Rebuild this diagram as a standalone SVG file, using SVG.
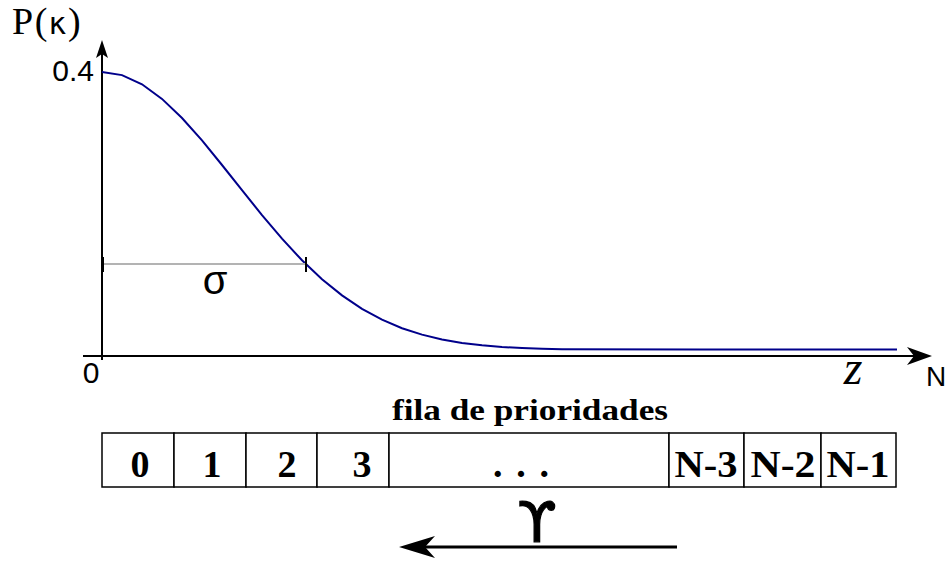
<svg xmlns="http://www.w3.org/2000/svg" width="946" height="561" viewBox="0 0 946 561">
<style>
.ax{stroke:#000;stroke-width:2;fill:none}
.ah{fill:#000;stroke:none}
.curve{stroke:#00008b;stroke-width:2;fill:none}
.sig{stroke:#b3b3b3;stroke-width:2;fill:none}
.tick{stroke:#000;stroke-width:2}
.cell{fill:#fff;stroke:#000;stroke-width:1.5}
.ct{font-family:"Liberation Serif",serif;font-weight:bold;font-size:38px;text-anchor:middle;fill:#000}
.sans{font-family:"Liberation Sans","DejaVu Sans",sans-serif;fill:#000}
.serif{font-family:"Liberation Serif",serif;fill:#000}
</style>
<rect width="946" height="561" fill="#fff"/>
<g id="connectors">
  <line class="ax" x1="102" y1="360" x2="102" y2="50"/>
  <path class="ah" d="M102,40 L108,58 L102,54 L96,58 Z"/>
  <line class="ax" x1="83" y1="356" x2="920" y2="356"/>
  <path class="ah" d="M932,356 L907,365 L914,356 L907,347 Z"/>
  <line x1="677" y1="547" x2="425" y2="547" stroke="#000" stroke-width="3"/>
  <path class="ah" d="M399,547 L435,536 L425,547 L435,558 Z"/>
</g>
<g id="curve">
  <path class="curve" d="M102,72 L122,75.1 L142,84.3 L162,98.9 L182,118 L202,140.4 L222,165 L242,190.2 L262,215.2 L282,238.7 L302,260.3 L322,279.2 L342,295.4 L362,308.9 L382,319.7 L402,328.2 L422,334.6 L442,339.4 L462,342.9 L482,345.3 L502,347 L522,348.1 L542,348.8 L562,349.2 L700,349.6 L897,349.5"/>
</g>
<g id="sigma">
  <line class="sig" x1="102" y1="264" x2="306" y2="264"/>
  <line class="tick" x1="103" y1="257" x2="103" y2="272"/>
  <line class="tick" x1="306" y1="257" x2="306" y2="272"/>
  <text class="sans" x="215" y="294" font-size="40" text-anchor="middle">σ</text>
</g>
<g id="labels">
  <text class="serif" x="12" y="34" font-size="38" letter-spacing="1.5">P(<tspan font-family="'DejaVu Sans',sans-serif" font-size="30">κ</tspan>)</text>
  <text class="sans" x="94" y="81" font-size="30" text-anchor="end">0.4</text>
  <text class="sans" x="91" y="383" font-size="30" text-anchor="middle">0</text>
  <text class="serif" x="853" y="384" font-size="48" font-style="italic" text-anchor="middle">z</text>
  <text class="sans" x="936" y="386" font-size="28" text-anchor="middle">N</text>
  <text class="serif" x="530" y="420" font-size="30" font-weight="bold" text-anchor="middle" textLength="276" lengthAdjust="spacingAndGlyphs">fila de prioridades</text>
  <text x="537" y="541" font-family="'DejaVu Sans',sans-serif" font-size="56" stroke="#000" stroke-width="1.2" text-anchor="middle">ϒ</text>
</g>
<g id="queue">
  <g id="cell0"><rect class="cell" x="102" y="433" width="72" height="54"/><text class="ct" x="140" y="477">0</text></g>
  <g id="cell1"><rect class="cell" x="174" y="433" width="72" height="54"/><text class="ct" x="212" y="477">1</text></g>
  <g id="cell2"><rect class="cell" x="246" y="433" width="71" height="54"/><text class="ct" x="287" y="477">2</text></g>
  <g id="cell3"><rect class="cell" x="317" y="433" width="72" height="54"/><text class="ct" x="362" y="477">3</text></g>
  <g id="cellDots"><rect class="cell" x="389" y="433" width="280" height="54"/><text class="ct" x="521" y="477" textLength="56" lengthAdjust="spacing">. . .</text></g>
  <g id="cellN3"><rect class="cell" x="669" y="433" width="75" height="54"/><text class="ct" x="706" y="477" textLength="63" lengthAdjust="spacingAndGlyphs">N-3</text></g>
  <g id="cellN2"><rect class="cell" x="744" y="433" width="77" height="54"/><text class="ct" x="783" y="477" textLength="65" lengthAdjust="spacingAndGlyphs">N-2</text></g>
  <g id="cellN1"><rect class="cell" x="821" y="433" width="75" height="54"/><text class="ct" x="858" y="477" textLength="63" lengthAdjust="spacingAndGlyphs">N-1</text></g>
</g>
</svg>
